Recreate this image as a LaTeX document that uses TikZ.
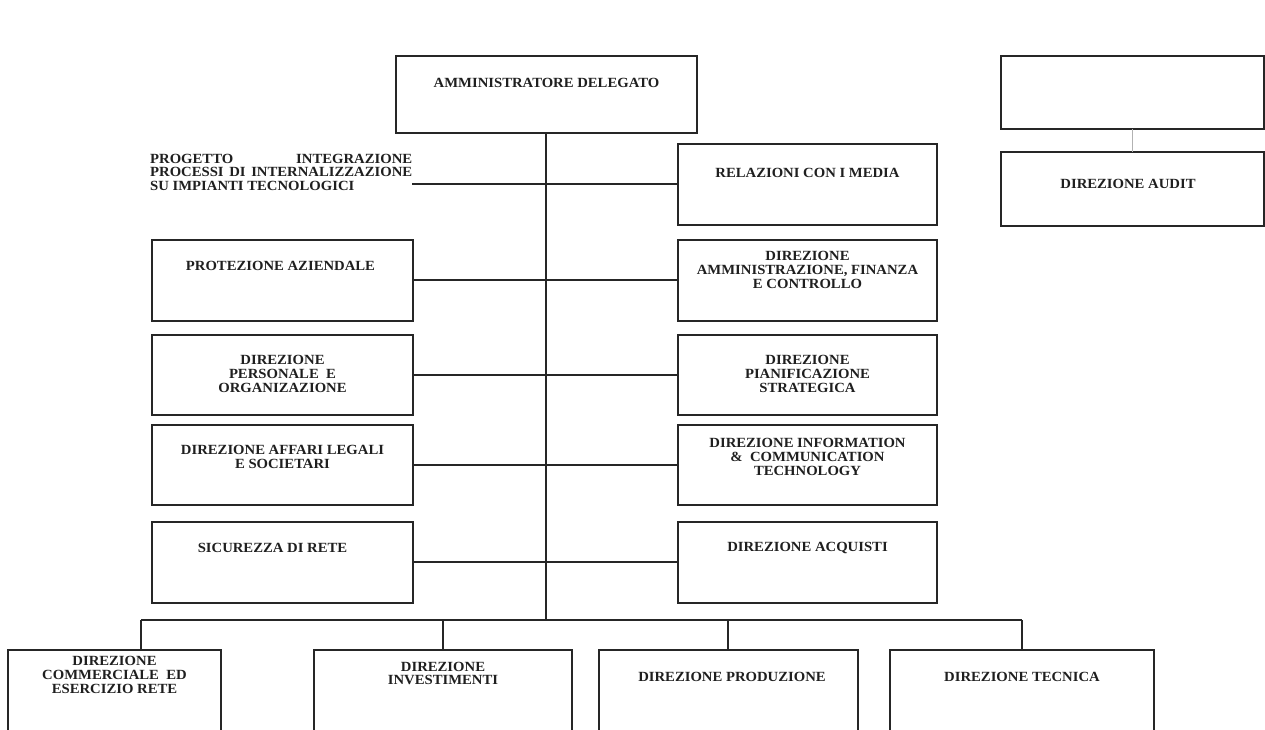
\documentclass[tikz,border=0pt]{standalone}
\usepackage{fontspec}
\setmainfont{Liberation Serif}[FakeStretch=1.05]
\begin{document}
\begin{tikzpicture}[x=1pt,y=-1pt,
  box/.style={draw=black!85, line width=2pt, rectangle, inner sep=0pt, outer sep=0pt},
  lbl/.style={inner sep=0pt, align=center, text=black!88,
    font=\fontsize{14}{13.8}\selectfont\bfseries},
  link/.style={draw=black!85, line width=1.8pt},
  thinlink/.style={draw=black!30, line width=0.8pt}]
\useasboundingbox (0,0) rectangle (1265,729);
\clip (0,0) rectangle (1265,729);
\fill[white] (0,0) rectangle (1265,729);

% top of the chart
\node[box, minimum width=301, minimum height=77] (ad) at (546,94.5) {};
\node[lbl] (ad-t) at (546.5,83) {AMMINISTRATORE DELEGATO};

\node[box, minimum width=263, minimum height=73] (blank) at (1132,92.5) {};
\node[box, minimum width=263, minimum height=74] (audit) at (1132,189) {};
\node[lbl] (audit-t) at (1128,184) {DIREZIONE AUDIT};

% project label on the left
\node[inner sep=0pt, anchor=north west, align=left, text=black!88,
  font=\fontsize{14}{13.5}\selectfont\bfseries] (prog) at (150,154)
  {\makebox[262pt][s]{PROGETTO\hfill INTEGRAZIONE}\\
   \makebox[262pt][s]{PROCESSI\ \ DI\ \ INTERNALIZZAZIONE}\\
   SU IMPIANTI TECNOLOGICI};

\node[box, minimum width=259, minimum height=81] (rel) at (807.5,184) {};
\node[lbl] (rel-t) at (807.5,173) {RELAZIONI CON I MEDIA};

% left column
\node[box, minimum width=261, minimum height=81] (prot) at (282.5,280) {};
\node[lbl] (prot-t) at (280.5,266) {PROTEZIONE AZIENDALE};
\node[box, minimum width=261, minimum height=80] (pers) at (282.5,375) {};
\node[lbl] (pers-t) at (282.5,374) {DIREZIONE\\PERSONALE\ \ E\\ORGANIZAZIONE};
\node[box, minimum width=261, minimum height=80] (legal) at (282.5,465) {};
\node[lbl] (legal-t) at (282.5,457) {DIREZIONE AFFARI LEGALI\\E SOCIETARI};
\node[box, minimum width=261, minimum height=81] (sic) at (282.5,562) {};
\node[lbl] (sic-t) at (272.5,548) {SICUREZZA DI RETE};

% right column
\node[box, minimum width=259, minimum height=81] (amm) at (807.5,280) {};
\node[lbl] (amm-t) at (807.5,270) {DIREZIONE\\AMMINISTRAZIONE, FINANZA\\E CONTROLLO};
\node[box, minimum width=259, minimum height=80] (pian) at (807.5,375) {};
\node[lbl] (pian-t) at (807.5,374) {DIREZIONE\\PIANIFICAZIONE\\STRATEGICA};
\node[box, minimum width=259, minimum height=80] (ict) at (807.5,465) {};
\node[lbl] (ict-t) at (807.5,457) {DIREZIONE INFORMATION\\\&\ \ COMMUNICATION\\TECHNOLOGY};
\node[box, minimum width=259, minimum height=81] (acq) at (807.5,562) {};
\node[lbl] (acq-t) at (807.5,548) {DIREZIONE ACQUISTI};

% bottom row
\node[box, minimum width=213, minimum height=110] (comm) at (114.5,705) {};
\node[lbl] (comm-t) at (114.5,675) {DIREZIONE\\COMMERCIALE\ \ ED\\ESERCIZIO RETE};
\node[box, minimum width=258, minimum height=110] (inv) at (443,705) {};
\node[lbl] (inv-t) at (443,673.5) {DIREZIONE\\INVESTIMENTI};
\node[box, minimum width=259, minimum height=110] (prod) at (728,705) {};
\node[lbl] (prod-t) at (732,677) {DIREZIONE PRODUZIONE};
\node[box, minimum width=264, minimum height=110] (tec) at (1022,705) {};
\node[lbl] (tec-t) at (1022,677) {DIREZIONE TECNICA};

% connectors
\coordinate (busL) at (141,620);
\coordinate (busR) at (1022,620);
\coordinate (trunk) at (546,620);

\draw[link] (ad.south) -- (trunk);
\draw[link] (busL) -- (busR);
\draw[link] (busL) -- (busL |- comm.north);
\draw[link] (inv.north |- busL) -- (inv.north);
\draw[link] (prod.north |- busL) -- (prod.north);
\draw[link] (busR) -- (tec.north);

\draw[link] (prog.east |- rel.west) -- (rel.west);
\draw[link] (prot.east) -- (amm.west);
\draw[link] (pers.east) -- (pian.west);
\draw[link] (legal.east) -- (ict.west);
\draw[link] (sic.east) -- (acq.west);

\draw[thinlink] (blank.south) -- (audit.north);
\end{tikzpicture}
\end{document}
